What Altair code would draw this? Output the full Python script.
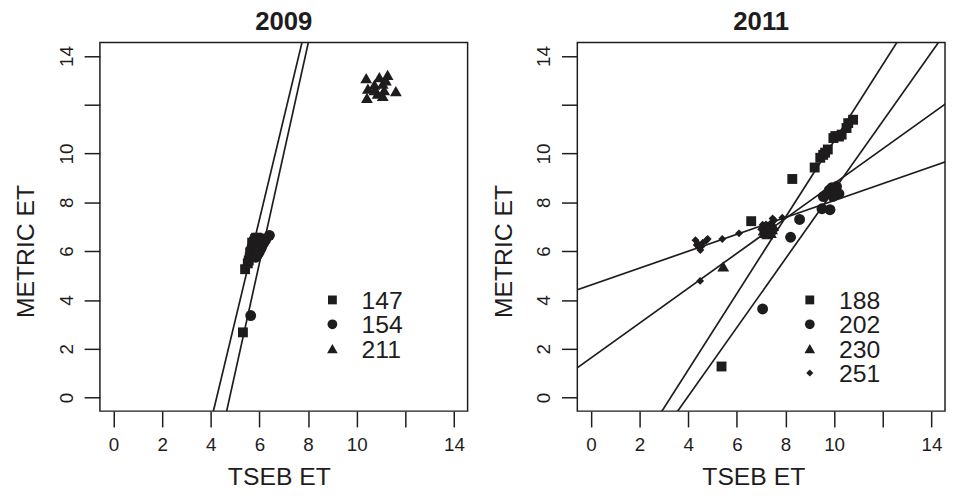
import altair as alt
import pandas as pd

FONT = "Liberation Sans"
INK = "#1e1c1d"

# ---------------- 2009 ----------------
s147_x = [5.32, 5.41, 5.52, 5.56, 5.60, 5.63, 5.66, 5.69, 5.72, 5.75, 5.78, 5.82, 5.86, 5.92, 5.62, 5.70, 5.80]
s147_y = [2.67, 5.26, 5.50, 5.62, 5.75, 5.90, 6.00, 6.10, 6.20, 6.30, 6.40, 6.50, 6.55, 6.55, 5.95, 6.35, 6.25]
s154_x = [5.64, 5.85, 5.92, 5.98, 6.03, 6.08, 6.12, 6.18, 6.25, 6.41, 5.95, 6.05, 5.88, 6.15]
s154_y = [3.36, 5.75, 5.85, 5.95, 6.05, 6.15, 6.25, 6.35, 6.45, 6.65, 6.05, 6.30, 5.95, 6.50]
s211_x = [10.39, 10.93, 11.27, 10.73, 10.46, 11.07, 11.13, 11.61, 10.86, 10.42, 11.07, 10.73, 11.20]
s211_y = [13.10, 13.14, 13.23, 12.83, 12.67, 12.87, 12.60, 12.56, 12.46, 12.29, 12.37, 12.60, 13.00]
series09 = ["147", "154", "211"]
fit09_int = [-17.60, -21.49]
fit09_slope = [4.15, 4.50]

# ---------------- 2011 ----------------
s188_x = [5.37, 6.59, 8.28, 9.20, 9.43, 9.55, 9.63, 9.74, 9.97, 10.05, 10.20, 10.31, 10.51, 10.58, 10.78]
s188_y = [1.27, 7.23, 8.96, 9.43, 9.83, 9.95, 10.04, 10.17, 10.64, 10.72, 10.70, 10.78, 11.05, 11.25, 11.39]
s202_x = [7.06, 8.21, 8.58, 9.50, 9.83, 9.56, 9.70, 9.80, 9.90, 10.00, 10.10, 10.20, 9.95, 10.05]
s202_y = [3.63, 6.57, 7.30, 7.74, 7.70, 8.24, 8.35, 8.50, 8.60, 8.45, 8.65, 8.35, 8.25, 8.55]
s230_x = [5.44, 7.10, 7.20, 7.30, 7.35, 7.45, 7.25, 7.50, 7.15, 7.40]
s230_y = [5.38, 6.85, 6.95, 6.80, 7.00, 6.90, 6.70, 7.05, 6.75, 6.75]
s251_x = [4.49, 4.30, 4.40, 4.45, 4.50, 4.60, 4.75, 4.35, 4.55, 4.80, 5.40, 6.09, 7.06, 7.47, 7.87, 7.54, 7.00, 7.20, 7.40, 7.30, 7.10]
s251_y = [4.78, 6.45, 6.30, 6.15, 6.05, 6.35, 6.45, 6.25, 6.20, 6.50, 6.50, 6.73, 7.08, 7.34, 7.37, 7.27, 6.90, 7.10, 7.15, 6.95, 6.80]
series11 = ["188", "202", "230", "251"]
fit11_int = [4.61, 1.62, -5.13, -5.59]
fit11_slope = [0.347, 0.715, 1.565, 1.41]

tick_values = [0, 2, 4, 6, 8, 10, 12, 14]

SHAPE = {"147": "square", "154": "circle", "211": "triangle-up",
         "188": "square", "202": "circle", "230": "triangle-up", "251": "diamond"}
SIZE = {"square": 100, "circle": 121, "triangle-up": 144, "diamond": 64}

XD = [-0.56, 14.56]
YD = [-0.56, 14.56]


def points_df(groups):
    rows = []
    for name, xs, ys in groups:
        for x, y in zip(xs, ys):
            rows.append({"x": x, "y": y, "shape": SHAPE[name], "sz": SIZE[SHAPE[name]]})
    return pd.DataFrame(rows)


def lines_df(ints, slopes):
    rows = []
    for i, (a, b) in enumerate(zip(ints, slopes)):
        for x in (-2.0, 17.0):
            rows.append({"x": x, "y": a + b * x, "id": i})
    return pd.DataFrame(rows)


def legend_df(names):
    return pd.DataFrame([{"label": n, "shape": SHAPE[n], "sz": SIZE[SHAPE[n]] * 0.8,
                          "ly": 4 - i, "sx": 9.0, "tx": 10.2} for i, n in enumerate(names)])


def panel(title, pts, lns, leg, title_x):
    xs = alt.Scale(domain=XD, nice=False, zero=False)
    ys = alt.Scale(domain=YD, nice=False, zero=False)
    lab = "datum.value == 12 ? '' : datum.label"
    xaxis = alt.Axis(title="TSEB ET", values=tick_values, labelExpr=lab, tickSize=16, tickWidth=1.5,
                     tickColor=INK, domain=False, grid=False, labelFontSize=19, labelPadding=9,
                     labelColor=INK, labelFont=FONT, labelFlush=False, labelOverlap=False,
                     titleFontSize=25, titleFontWeight="normal", titleFont=FONT, titleColor=INK,
                     titleX=title_x, titleY=74, titleBaseline="alphabetic")
    yaxis = alt.Axis(title="METRIC ET", values=tick_values, labelExpr=lab, tickSize=16, tickWidth=1.5,
                     tickColor=INK, domain=False, grid=False, labelFontSize=19, labelPadding=12,
                     labelAngle=270, labelAlign="center", labelBaseline="alphabetic",
                     labelColor=INK, labelFont=FONT, labelFlush=False, labelOverlap=False,
                     titleFontSize=25, titleFontWeight="normal", titleFont=FONT, titleColor=INK,
                     titleAngle=270, titleX=-67, titleY=211, titleBaseline="alphabetic",
                     titleAlign="center")
    shape_scale = alt.Scale(domain=["square", "circle", "triangle-up", "diamond"],
                            range=["square", "circle", "triangle-up", "diamond"])

    p = alt.Chart(pts).mark_point(filled=True, opacity=1, color=INK, strokeWidth=0).encode(
        x=alt.X("x:Q", scale=xs, axis=xaxis),
        y=alt.Y("y:Q", scale=ys, axis=yaxis),
        shape=alt.Shape("shape:N", scale=shape_scale, legend=None),
        size=alt.Size("sz:Q", scale=None),
    )
    l = alt.Chart(lns).mark_line(clip=True, color=INK, strokeWidth=1.7).encode(
        x=alt.X("x:Q", scale=xs, axis=xaxis),
        y=alt.Y("y:Q", scale=ys, axis=yaxis),
        detail="id:N",
    )
    ls = alt.Chart(leg).mark_point(filled=True, opacity=1, color=INK, strokeWidth=0).encode(
        x=alt.X("sx:Q", scale=xs, axis=xaxis),
        y=alt.Y("ly:Q", scale=ys, axis=yaxis),
        shape=alt.Shape("shape:N", scale=shape_scale, legend=None),
        size=alt.Size("sz:Q", scale=None),
    )
    lt = alt.Chart(leg).mark_text(align="left", baseline="middle", fontSize=25, font=FONT,
                                  color=INK, dy=1).encode(
        x=alt.X("tx:Q", scale=xs, axis=xaxis),
        y=alt.Y("ly:Q", scale=ys, axis=yaxis),
        text="label:N",
    )
    return alt.layer(p, l, ls, lt).properties(
        width=372, height=373,
        title=alt.TitleParams(title, fontSize=26, fontWeight="bold", font=FONT, color=INK,
                              baseline="alphabetic", offset=-13, anchor="middle", frame="group"),
    )


left = panel("2009",
             points_df([("147", s147_x, s147_y), ("154", s154_x, s154_y), ("211", s211_x, s211_y)]),
             lines_df(fit09_int, fit09_slope), legend_df(series09), 181)
right = panel("2011",
              points_df([("188", s188_x, s188_y), ("202", s202_x, s202_y),
                         ("230", s230_x, s230_y), ("251", s251_x, s251_y)]),
              lines_df(fit11_int, fit11_slope), legend_df(series11), 178)

chart = alt.hconcat(left, right, spacing=22).properties(
    padding={"left": 5, "top": -3, "right": 0, "bottom": 0},
    background="white",
).configure_view(stroke=INK, strokeWidth=1.5)

chart.save("out.html", embed_options={"renderer": "svg", "actions": False})
